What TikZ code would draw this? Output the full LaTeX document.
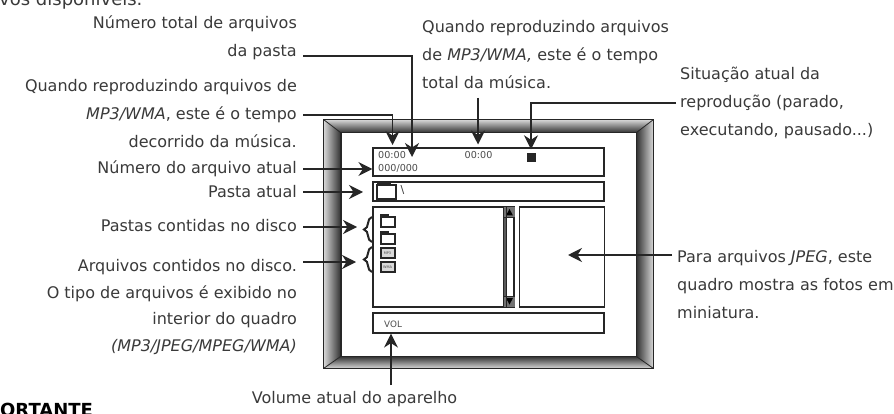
\documentclass[tikz,border=0pt]{standalone}
\usepackage{fontspec}
\setmainfont{DejaVu Sans}
\usetikzlibrary{arrows.meta,decorations.pathreplacing}
\definecolor{inktext}{HTML}{3A3A3A}
\definecolor{inkline}{HTML}{262626}
\begin{document}
\begin{tikzpicture}[
    x=1pt, y=-1pt,
    lblleft/.style={anchor=east, align=right, text=inktext, inner xsep=6pt, inner ysep=0pt, font=\fontsize{16}{28}\selectfont},
    lblright/.style={anchor=west, align=left, text=inktext, inner sep=0pt, font=\fontsize{16}{28}\selectfont},
    connection/.style={-{Stealth[length=14pt,width=14pt]}, line width=1.4pt, draw=inkline},
    screenbox/.style={draw=inkline, line width=1.2pt, fill=white, inner sep=0pt},
    readout/.style={text=black!70, inner sep=0pt, font=\fontsize{9.6}{10}\selectfont},
    filebox/.style={draw=inkline, line width=2pt, minimum width=14pt, minimum height=10pt, inner sep=0pt},
    curly/.style={decorate, decoration={brace, amplitude=8pt}, line width=2pt, draw=inkline}
  ]
    \clip (0,0) rectangle (894,414);
    \useasboundingbox (0,0) rectangle (894,414);
    \fill[white] (0,0) rectangle (894,414);

    % Page fragments
    \node[anchor=base west, inner sep=0pt, text=inktext, font=\fontsize{18}{20}\selectfont] (pageTop) at (-1,6) {vos disponíveis.};
    \node[anchor=base west, inner sep=0pt, font=\fontsize{18}{20}\bfseries] (pageBottom) at (0,416) {ORTANTE};

    % Frame
    \node[draw=inkline, line width=1pt, minimum width=329pt, minimum height=248pt, inner sep=0pt] (frameOuter) at (488.5,244) {};
    \node[draw=inkline, line width=1pt, minimum width=295pt, minimum height=223pt, inner sep=0pt] (frameInner) at (488.5,244.5) {};
    \shade[top color=black!15, bottom color=black!80] (frameOuter.north west) -- (frameOuter.north east) -- (frameInner.north east) -- (frameInner.north west) -- cycle;
    \shade[top color=black!80, bottom color=black!15] (frameOuter.south west) -- (frameOuter.south east) -- (frameInner.south east) -- (frameInner.south west) -- cycle;
    \shade[left color=black!15, right color=black!80] (frameOuter.north west) -- (frameOuter.south west) -- (frameInner.south west) -- (frameInner.north west) -- cycle;
    \shade[left color=black!80, right color=black!15] (frameOuter.north east) -- (frameOuter.south east) -- (frameInner.south east) -- (frameInner.north east) -- cycle;
    \draw[inkline, line width=1pt] (frameOuter.north west) rectangle (frameOuter.south east);
    \draw[inkline, line width=1pt] (frameInner.north west) rectangle (frameInner.south east);
    \foreach \c in {north west, north east, south west, south east}
      \draw[inkline, line width=0.8pt] (frameOuter.\c) -- (frameInner.\c);

    % Screen boxes
    \node[screenbox, minimum width=231pt, minimum height=28pt] (infoBox) at (488.5,162) {};
    \node[screenbox, minimum width=231pt, minimum height=19pt] (pathBox) at (488.5,191.5) {};
    \node[screenbox, minimum width=131pt, minimum height=100pt] (listBox) at (438.5,257) {};
    \node[screenbox, minimum width=85.5pt, minimum height=100pt] (previewBox) at (562,257) {};
    \node[screenbox, minimum width=231pt, minimum height=20pt] (volBox) at (488.5,323) {};

    % Scroll bar
    \node[screenbox, minimum width=10.5pt, minimum height=100pt] (scrollBar) at (509.5,257) {};
    \fill[black!65] (504,207) rectangle (507,307);
    \fill[black!55] (504,207) rectangle (515,217.5);
    \fill[black!55] (504,296) rectangle (515,307);
    \fill[black] (509.5,209) -- (513,215.5) -- (506,215.5) -- cycle;
    \fill[black] (509.5,304.5) -- (513,298) -- (506,298) -- cycle;
    \draw[inkline, line width=1pt] (506.5,207) -- (506.5,307) (513,217.5) -- (513,296);
    \draw[inkline, line width=1pt] (504,217.5) -- (515,217.5) (504,296) -- (515,296);

    % Readouts
    \node[readout, anchor=west] (timeNow) at (378,155.5) {00:00};
    \node[readout, anchor=west] (fileCount) at (378,168) {000/000};
    \node[readout, anchor=west] (timeTotal) at (464.5,155.5) {00:00};
    \node[fill=inkline, minimum size=9pt, inner sep=0pt] (stopIcon) at (531,157.5) {};
    \node[readout, anchor=west, font=\fontsize{8.8}{9}\selectfont] (volText) at (384,324) {VOL};
    \node[inner sep=0pt, text=inktext, font=\fontsize{11}{11}\selectfont] (rootText) at (402.5,190) {\textbackslash};

    % Icons
    \node[draw=inkline, line width=2pt, minimum width=19pt, minimum height=14pt, inner sep=0pt] (pathFolder) at (386.5,192) {};
    \fill[inkline] (377,182) rectangle (391,186);
    \node[filebox] (folderA) at (387.5,222.5) {};
    \node[filebox] (folderB) at (387.5,239) {};
    \foreach \f in {folderA, folderB}
      \fill[inkline] (\f.north west) ++(0,1) rectangle ++(9,-3);
    \node[filebox, fill=black!15, font=\fontsize{3.5}{3.5}\selectfont, text=black!70] (fileA) at (387.5,253) {MP3};
    \node[filebox, fill=black!15, font=\fontsize{3.5}{3.5}\selectfont, text=black!70] (fileB) at (387.5,267) {WMA};

    % Braces
    \coordinate (braceAtop) at (372,217);
    \coordinate (braceAbot) at (372,242);
    \coordinate (braceBtop) at (372,247);
    \coordinate (braceBbot) at (372,272);
    \draw[curly] (braceAbot) -- (braceAtop);
    \draw[curly] (braceBbot) -- (braceBtop);

    % Labels, left side
    \node[lblleft] (lblPasta) at (303,38) {Número total de arquivos\\da pasta};
    \node[lblleft] (lblDecorrido) at (303,114) {Quando reproduzindo arquivos de\\\textit{MP3/WMA}, este é o tempo\\decorrido da música.};
    \node[lblleft] (lblAtual) at (303,169) {Número do arquivo atual};
    \node[lblleft] (lblFolder) at (303,192) {Pasta atual};
    \node[lblleft] (lblContidas) at (303,226) {Pastas contidas no disco};
    \node[lblleft, font=\fontsize{16}{26.5}\selectfont] (lblArquivos) at (303,307) {Arquivos contidos no disco.\\O tipo de arquivos é exibido no\\interior do quadro\\\textit{(MP3/JPEG/MPEG/WMA)}};

    % Labels, top and right
    \node[lblright] (lblTotal) at (422,55) {Quando reproduzindo arquivos\\de \textit{MP3/WMA,} este é o tempo\\total da música.};
    \node[lblright] (lblSituacao) at (680,103) {Situação atual da\\reprodução (parado,\\executando, pausado...)};
    \node[lblright] (lblJpeg) at (677,285) {Para arquivos \textit{JPEG}, este\\quadro mostra as fotos em\\miniatura.};
    \node[lblright, anchor=center] (lblVolume) at (354.5,399) {Volume atual do aparelho};

    % Connections
    \coordinate (startPasta) at (303,56);
    \coordinate (startDecorrido) at (303,115);
    \coordinate (startTotal) at (478,98);
    \coordinate (startSituacao) at (676,103);
    \coordinate (startJpeg) at (672,255);
    \coordinate (startVol) at (391,385);
    \coordinate (startArquivos) at (303,262);
    \coordinate (tipPasta) at (412,157);
    \coordinate (tipDecorrido) at (392.5,145);
    \coordinate (tipTotal) at (478,144.5);
    \coordinate (tipFolder) at (363,192);
    \coordinate (tipContidas) at (357,227);
    \coordinate (tipArquivos) at (356,262);
    \coordinate (tipJpeg) at (568,255);

    \draw[connection] (startPasta) -| (tipPasta);
    \draw[connection] (startDecorrido) -| (tipDecorrido);
    \draw[connection] (startTotal) -- (tipTotal);
    \draw[connection, shorten >=3.5pt] (startSituacao) -| (stopIcon.north);
    \draw[connection] (lblAtual.east) -- (infoBox.west |- lblAtual.east);
    \draw[connection] (lblFolder.east) -- (tipFolder);
    \draw[connection] (startArquivos) -- (tipArquivos);
    \draw[connection] (lblContidas.east) ++(0,1) -- (tipContidas);
    \draw[connection] (startJpeg) -- (tipJpeg);
    \draw[connection] (startVol) -- (startVol |- volBox.south);
\end{tikzpicture}
\end{document}
